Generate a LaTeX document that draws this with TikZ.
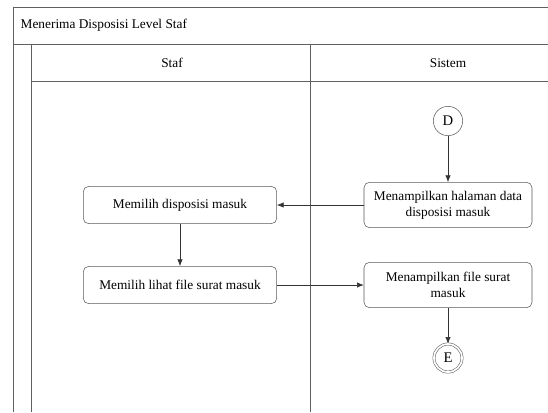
\documentclass[tikz,border=0pt]{standalone}
\usepackage{fontspec}
\setmainfont{Liberation Serif}
\usepackage{tikz}
\usetikzlibrary{arrows.meta}
\usetikzlibrary{positioning}

\begin{document}
\begin{tikzpicture}[
			x=0.75pt, y=-0.75pt,
			lane/.style={draw=gray!75!black, line width=0.7pt},
			action/.style={draw=gray!70!black, rounded corners=4pt, align=center, font=\fontsize{10}{12}\selectfont, inner sep=2pt},
			staffbox/.style={action, minimum width=145pt, minimum height=28pt},
			sysbox/.style={action, minimum width=126pt, minimum height=34pt},
			connector/.style={circle, draw=gray!70!black, minimum size=22pt, inner sep=0pt, font=\fontsize{11}{12}\selectfont},
			flow/.style={draw=black!80, line width=0.5pt, -{Latex[length=5pt, width=4pt]}}
		]
		\useasboundingbox (0,0) rectangle (548,412);

		% swimlane frame
		\draw[lane] (13,412) -- (13,7) -- (548,7);
		\draw[lane] (13,44) -- (548,44);
		\draw[lane] (31,44) -- (31,412);
		\draw[lane] (31,81) -- (548,81);
		\draw[lane] (310,44) -- (310,412);

		\node[anchor=west, font=\fontsize{10}{12}\selectfont] (title) at (16,25) {Menerima Disposisi Level Staf};
		\node[font=\fontsize{10}{12}\selectfont] (staf) at (172,63) {Staf};
		\node[font=\fontsize{10}{12}\selectfont] (sistem) at (448,63) {Sistem};

		% actions
		\node[connector] (D) at (448,121) {D};
		\node[sysbox] (tampilDisposisi) at (448,205) {Menampilkan halaman data\\disposisi masuk};
		\node[staffbox] (pilihDisposisi) at (180,205) {Memilih disposisi masuk};
		\node[staffbox] (pilihFile) at (180,285) {Memilih lihat file surat masuk};
		\node[sysbox] (tampilFile) at (448,285) {Menampilkan file surat\\masuk};
		\node[connector, double, double distance=1.3pt, minimum size=21pt] (E) at (448,358) {E};

		\draw[flow] (D) -- (tampilDisposisi);
		\draw[flow] (tampilDisposisi) -- (pilihDisposisi);
		\draw[flow] (pilihDisposisi) -- (pilihFile);
		\draw[flow] (pilihFile) -- (tampilFile);
		\draw[flow] (tampilFile) -- (E);
	\end{tikzpicture}
\end{document}
